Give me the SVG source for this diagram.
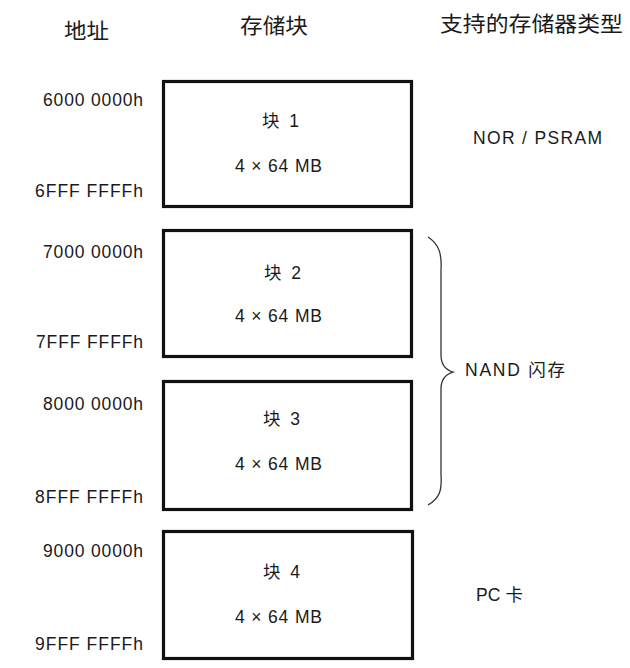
<svg xmlns="http://www.w3.org/2000/svg" width="630" height="668" viewBox="0 0 630 668">
<style>
.hd{font-family:"Noto Sans CJK SC","Liberation Sans",sans-serif;font-size:21px;fill:#1a1a1a}
.ad{font-family:"Liberation Sans","Noto Sans CJK SC",sans-serif;font-size:17.5px;fill:#1a1a1a;text-anchor:end}
.lb{font-family:"Liberation Sans","Noto Sans CJK SC",sans-serif;font-size:17.5px;fill:#1a1a1a}
.box{fill:#fff;stroke:#111;stroke-width:3.2}
.br{fill:none;stroke:#333;stroke-width:1.3}
</style>
<rect width="630" height="668" fill="#fff"/>
<g id="headers">
<text class="hd" x="64" y="38" textLength="45" lengthAdjust="spacingAndGlyphs">地址</text>
<text class="hd" x="240" y="33" textLength="68" lengthAdjust="spacingAndGlyphs">存储块</text>
<text class="hd" x="440" y="31" textLength="183" lengthAdjust="spacingAndGlyphs">支持的存储器类型</text>
</g>
<g id="block1">
<rect class="box" x="163.5" y="81.5" width="248" height="125"/>
<text class="lb" x="262" y="127" textLength="37" lengthAdjust="spacing">块 1</text>
<text class="lb" x="235" y="172" textLength="87" lengthAdjust="spacing">4 × 64 MB</text>
<text class="ad" x="143" y="106" textLength="100" lengthAdjust="spacing">6000 0000h</text>
<text class="ad" x="143" y="197" textLength="108" lengthAdjust="spacing">6FFF FFFFh</text>
</g>
<g id="block2">
<rect class="box" x="163.5" y="230.5" width="248" height="126"/>
<text class="lb" x="264" y="279" textLength="37" lengthAdjust="spacing">块 2</text>
<text class="lb" x="235" y="322" textLength="87" lengthAdjust="spacing">4 × 64 MB</text>
<text class="ad" x="143" y="258" textLength="100" lengthAdjust="spacing">7000 0000h</text>
<text class="ad" x="143" y="348" textLength="107" lengthAdjust="spacing">7FFF FFFFh</text>
</g>
<g id="block3">
<rect class="box" x="163.5" y="381.5" width="248" height="128"/>
<text class="lb" x="263" y="425" textLength="37" lengthAdjust="spacing">块 3</text>
<text class="lb" x="235" y="470" textLength="87" lengthAdjust="spacing">4 × 64 MB</text>
<text class="ad" x="143" y="410" textLength="100" lengthAdjust="spacing">8000 0000h</text>
<text class="ad" x="143" y="503" textLength="108" lengthAdjust="spacing">8FFF FFFFh</text>
</g>
<g id="block4">
<rect class="box" x="163.5" y="531.5" width="249" height="127"/>
<text class="lb" x="263" y="578" textLength="37" lengthAdjust="spacing">块 4</text>
<text class="lb" x="235" y="623" textLength="87" lengthAdjust="spacing">4 × 64 MB</text>
<text class="ad" x="143" y="557" textLength="100" lengthAdjust="spacing">9000 0000h</text>
<text class="ad" x="143" y="650" textLength="108" lengthAdjust="spacing">9FFF FFFFh</text>
</g>
<g id="types">
<text class="lb" x="473" y="144" textLength="129" lengthAdjust="spacing">NOR / PSRAM</text>
<text class="lb" x="465" y="376" textLength="100" lengthAdjust="spacing">NAND 闪存</text>
<text class="lb" x="476" y="601" textLength="47" lengthAdjust="spacing">PC 卡</text>
</g>
<g id="connectors">
<path class="br" d="M428,237 C439,244 442,254 441,270 L441,355 C441,365 446,370 453,372 C446,374 441,379 441,389 L441,475 C442,490 440,498 428,505"/>
</g>
</svg>
